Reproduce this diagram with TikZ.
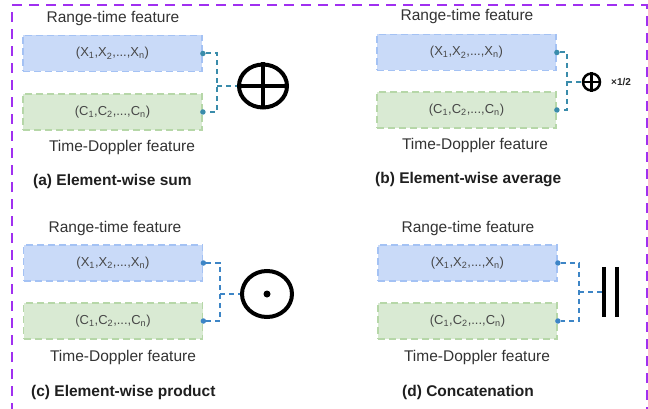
\documentclass[tikz,border=0pt]{standalone}
\usepackage{fontspec}
\setmainfont{Liberation Sans}
\usetikzlibrary{shapes.geometric}
\definecolor{purp}{HTML}{A030F0}
\definecolor{bfill}{HTML}{C9DAF8}
\definecolor{bline}{HTML}{A4C2F4}
\definecolor{gfill}{HTML}{D9EAD3}
\definecolor{gline}{HTML}{B6D7A8}
\definecolor{tealc}{HTML}{3A8CAB}
\definecolor{bluec}{HTML}{3D85C6}
\definecolor{txt}{HTML}{333333}
\newcommand{\xseq}{(X\textsubscript{1},X\textsubscript{2},...,X\textsubscript{n})}
\newcommand{\cseq}{(C\textsubscript{1},C\textsubscript{2},...,C\textsubscript{n})}
\begin{document}
\begin{tikzpicture}[x=1pt,y=-1pt,
  feat/.style={minimum width=179pt, minimum height=36pt, inner sep=0pt,
    dash pattern=on 7pt off 4pt, line width=1.8pt,
    font=\fontsize{13}{15}\selectfont, text=black!72},
  bluebox/.style={feat, draw=bline, fill=bfill},
  greenbox/.style={feat, draw=gline, fill=gfill},
  ttl/.style={font=\fontsize{15.5}{18}\selectfont, text=txt, inner sep=0pt},
  capt/.style={font=\bfseries\fontsize{15.5}{18}\selectfont, text=black!88, inner sep=0pt, anchor=west},
  conn/.style={line width=2pt, dash pattern=on 5pt off 4pt},
  dotc/.style={circle, fill, inner sep=0pt, minimum size=5.5pt},
  opring/.style={ellipse, draw=black, inner sep=0pt}
]
\useasboundingbox (0,0) rectangle (648,409);
\draw[purp, line width=2.6pt, dash pattern=on 10pt off 7pt] (12,430) -- (12,5) -- (647,5) -- (647,430);

% ---------- (a) ----------
\node[ttl] (at) at (113,18) {Range-time feature};
\node[bluebox] (a1) at (112.5,53.5) {\xseq};
\node[greenbox] (a2) at (112.5,112) {\cseq};
\node[ttl] (ab) at (122,147) {Time-Doppler feature};
\node[capt] (ac) at (33,181) {(a) Element-wise sum};
\node[opring, line width=4pt, minimum width=48pt, minimum height=43pt] (aop) at (263,86) {};
\draw[line width=4pt] (aop.north) -- (aop.south) (aop.west) -- (aop.east);
\coordinate (aj) at (217,0);
\node[dotc, tealc] (ad1) at (a1.east) {};
\node[dotc, tealc] (ad2) at (a2.east) {};
\draw[conn, tealc] (ad1) -- (ad1 -| aj) -- (ad2 -| aj) -- (ad2);
\draw[conn, tealc] (aj |- aop) -- (aop.west);

% ---------- (b) ----------
\node[ttl] (bt) at (467,16) {Range-time feature};
\node[bluebox] (b1) at (466.5,52.5) {\xseq};
\node[greenbox] (b2) at (466.5,110) {\cseq};
\node[ttl] (bb) at (475,145) {Time-Doppler feature};
\node[capt] (bc) at (375,180) {(b) Element-wise average};
\node[opring, line width=2.5pt, minimum width=17pt, minimum height=17pt] (bop) at (591.5,82) {};
\draw[line width=2.5pt] (bop.north) -- (bop.south) (bop.west) -- (bop.east);
\node[font=\bfseries\fontsize{10}{12}\selectfont, text=black!85, inner sep=0pt, anchor=west] (bhalf) at (611,82) {×1/2};
\coordinate (bj) at (567,0);
\node[dotc, tealc] (bd1) at (b1.east) {};
\node[dotc, tealc] (bd2) at (b2.east) {};
\draw[conn, tealc] (bd1) -- (bd1 -| bj) -- (bd2 -| bj) -- (bd2);
\draw[conn, tealc] (bj |- bop) -- (bop.west);

% ---------- (c) ----------
\node[ttl] (ct) at (115,228) {Range-time feature};
\node[bluebox] (c1) at (113,263) {\xseq};
\node[greenbox] (c2) at (113,321) {\cseq};
\node[ttl] (cb) at (123,357) {Time-Doppler feature};
\node[capt] (cc) at (31,392) {(c) Element-wise product};
\node[opring, line width=4pt, minimum width=50pt, minimum height=46pt] (cop) at (267,294) {};
\node[circle, fill=black, inner sep=0pt, minimum size=7pt] (cdot) at (cop.center) {};
\coordinate (cj) at (220,0);
\node[dotc, bluec] (cd1) at (c1.east) {};
\node[dotc, bluec] (cd2) at (c2.east) {};
\draw[conn, bluec] (cd1) -- (cd1 -| cj) -- (cd2 -| cj) -- (cd2);
\draw[conn, bluec] (cj |- cop) -- (cop.west);

% ---------- (d) ----------
\node[ttl] (dt) at (468,228) {Range-time feature};
\node[bluebox] (d1) at (467.5,263) {\xseq};
\node[greenbox] (d2) at (467.5,321) {\cseq};
\node[ttl] (db) at (477,357) {Time-Doppler feature};
\node[capt] (dc) at (402,392) {(d) Concatenation};
\node[inner sep=0pt, minimum width=13pt, minimum height=50pt] (dbar) at (610.5,292) {};
\draw[line width=3.5pt] (dbar.north west) -- (dbar.south west) (dbar.north east) -- (dbar.south east);
\coordinate (dj) at (579,0);
\node[dotc, bluec] (dd1) at (d1.east) {};
\node[dotc, bluec] (dd2) at (d2.east) {};
\draw[conn, bluec] (dd1) -- (dd1 -| dj) -- (dd2 -| dj) -- (dd2);
\draw[conn, bluec] (dj |- dbar) -- (dbar.west);
\end{tikzpicture}
\end{document}
